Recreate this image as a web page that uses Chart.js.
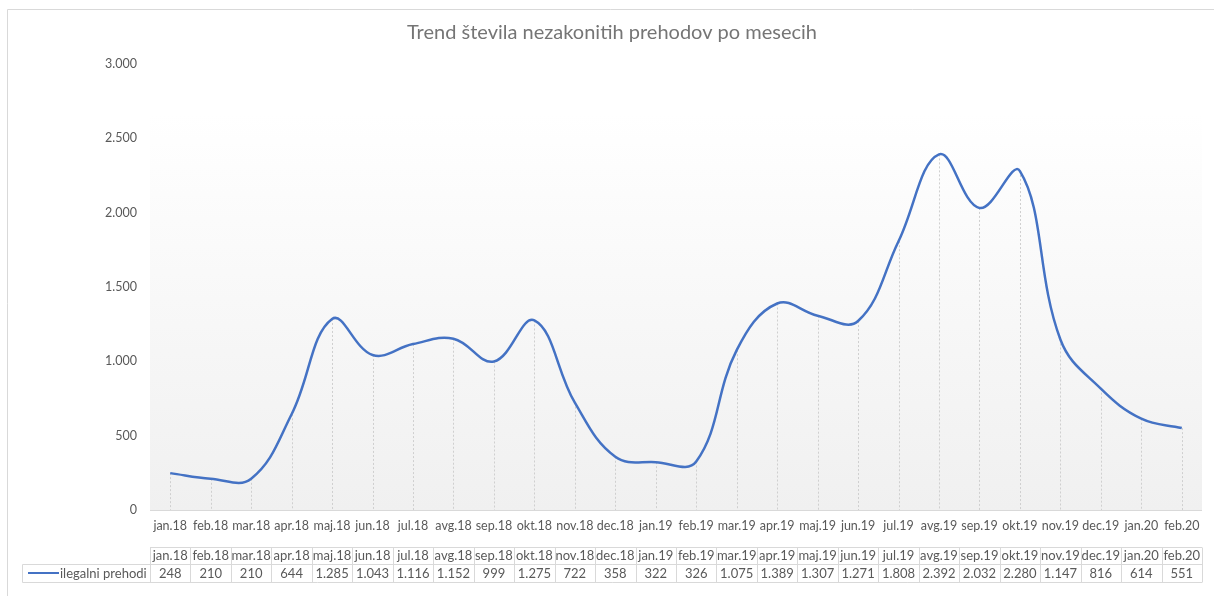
<!DOCTYPE html>
<html>
<head>
<meta charset="utf-8">
<script src="https://cdn.jsdelivr.net/npm/chart.js@4"></script>
<style>
  html, body { margin: 0; padding: 0; background: #fff; }
  #wrap { width: 1214px; height: 596px; position: relative; }
</style>
</head>
<body>
<div id="wrap"><canvas id="trend"></canvas></div>
<script>
// podatki
const meseci = ["jan.18","feb.18","mar.18","apr.18","maj.18","jun.18","jul.18","avg.18","sep.18","okt.18","nov.18","dec.18",
  "jan.19","feb.19","mar.19","apr.19","maj.19","jun.19","jul.19","avg.19","sep.19","okt.19","nov.19","dec.19","jan.20","feb.20"];
const ilegalniPrehodi = [248,210,210,644,1285,1043,1116,1152,999,1275,722,358,
  322,326,1075,1389,1307,1271,1808,2392,2032,2280,1147,816,614,551];
const imeSerije = "ilegalni prehodi";
const naslov = "Trend števila nezakonitih prehodov po mesecih";

const FONT = "Lato, 'Liberation Sans', sans-serif";
const SIVA = "#595959";
const MODRA = "#4472C4";

const fmt = v => v.toLocaleString("de-DE");

// ozadje, okvir, navpične črte in tabela
const okras = {
  id: "okras",
  beforeDraw(chart) {
    const ctx = chart.ctx, a = chart.chartArea;
    ctx.save();
    ctx.strokeStyle = "#d9d9d9";
    ctx.lineWidth = 1;
    ctx.beginPath();
    ctx.moveTo(7.5, 600); ctx.lineTo(7.5, 9.5); ctx.lineTo(1214, 9.5);
    ctx.stroke();
    const g = ctx.createLinearGradient(0, 114, 0, a.bottom);
    g.addColorStop(0, "#ffffff");
    g.addColorStop(1, "#f0f0f0");
    ctx.fillStyle = g;
    ctx.fillRect(a.left, 114, a.right - a.left, a.bottom - 114);
    ctx.restore();
  },
  beforeDatasetsDraw(chart) {
    const ctx = chart.ctx, a = chart.chartArea;
    const x = chart.scales.x, y = chart.scales.y;
    ctx.save();
    ctx.strokeStyle = "#cfcfcf";
    ctx.lineWidth = 1;
    ctx.setLineDash([2, 2]);
    ilegalniPrehodi.forEach((v, i) => {
      const px = Math.round(x.getPixelForValue(i)) + 0.5;
      ctx.beginPath();
      ctx.moveTo(px, y.getPixelForValue(v));
      ctx.lineTo(px, a.bottom);
      ctx.stroke();
    });
    ctx.setLineDash([]);
    ctx.strokeStyle = "#d9d9d9";
    ctx.beginPath();
    ctx.moveTo(a.left, a.bottom + 0.5);
    ctx.lineTo(a.right, a.bottom + 0.5);
    ctx.stroke();
    ctx.restore();
  },
  afterDraw(chart) {
    const ctx = chart.ctx, a = chart.chartArea;
    const x = chart.scales.x;
    const w = (a.right - a.left) / meseci.length;
    const t1 = 547.5, t2 = 564.5, t3 = 582.5, leg = 22.5;
    ctx.save();
    ctx.strokeStyle = "#d9d9d9";
    ctx.lineWidth = 1;
    ctx.beginPath();
    ctx.moveTo(a.left, t1); ctx.lineTo(a.right, t1);
    ctx.moveTo(leg, t2); ctx.lineTo(a.right, t2);
    ctx.moveTo(leg, t3); ctx.lineTo(a.right, t3);
    ctx.moveTo(leg, t2); ctx.lineTo(leg, t3);
    for (let i = 0; i <= meseci.length; i++) {
      const px = Math.round(a.left + i * w) + 0.5;
      ctx.moveTo(px, t1); ctx.lineTo(px, t3);
    }
    ctx.stroke();
    ctx.fillStyle = SIVA;
    ctx.font = "13px " + FONT;
    ctx.textAlign = "center";
    ctx.textBaseline = "middle";
    meseci.forEach((m, i) => {
      const px = x.getPixelForValue(i);
      ctx.fillText(m, px, (t1 + t2) / 2);
      ctx.fillText(fmt(ilegalniPrehodi[i]), px, (t2 + t3) / 2);
    });
    ctx.strokeStyle = MODRA;
    ctx.lineWidth = 2;
    ctx.beginPath();
    ctx.moveTo(28, 573); ctx.lineTo(59, 573);
    ctx.stroke();
    ctx.textAlign = "left";
    ctx.fillText(imeSerije, 60, 573.5);
    ctx.restore();
  }
};

new Chart(document.getElementById("trend"), {
  type: "line",
  data: {
    labels: meseci,
    datasets: [{
      label: imeSerije,
      data: ilegalniPrehodi,
      borderColor: MODRA,
      borderWidth: 2.5,
      pointRadius: 0,
      tension: 0.4,
      fill: false
    }]
  },
  options: {
    responsive: true,
    maintainAspectRatio: false,
    animation: false,
    layout: { padding: { left: 22, right: 12, top: 0, bottom: 60 } },
    plugins: {
      legend: { display: false },
      tooltip: { enabled: false },
      title: {
        display: true,
        text: naslov,
        color: "#757575",
        font: { family: FONT, size: 20, weight: "normal" },
        padding: { top: 21, bottom: 19 }
      }
    },
    scales: {
      x: {
        offset: true,
        grid: { display: false, drawTicks: false },
        border: { display: false },
        ticks: { color: SIVA, font: { family: FONT, size: 12.5 }, padding: 8, maxRotation: 0, autoSkip: false },
        afterFit(s) { s.height = 26; }
      },
      y: {
        min: 0,
        max: 3000,
        grid: { display: false, drawTicks: false },
        border: { display: false },
        ticks: { stepSize: 500, color: SIVA, font: { family: FONT, size: 12.5 }, padding: 13, callback: v => fmt(v) },
        afterFit(s) { s.width = 128; }
      }
    }
  },
  plugins: [okras]
});
</script>
</body>
</html>
